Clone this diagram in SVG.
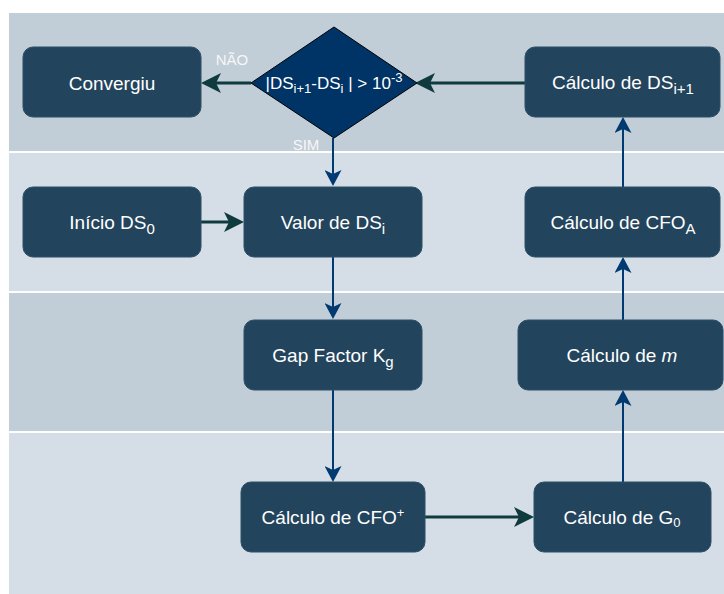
<svg xmlns="http://www.w3.org/2000/svg" width="724" height="594" viewBox="0 0 724 594">
<style>
.node{fill:#23445d;stroke:#2c4f68;stroke-width:1}
.t{font-family:"Liberation Sans",Arial,sans-serif;font-size:19px;fill:#ffffff;text-anchor:middle}
.lbl{font-family:"Liberation Sans",Arial,sans-serif;font-size:15px;fill:#f7f7f7;text-anchor:middle}
.teal{stroke:#0f3a3e;stroke-width:3;fill:none}
.blue{stroke:#003a70;stroke-width:2;fill:none}
</style>
<defs>
<marker id="aT" markerUnits="userSpaceOnUse" markerWidth="20" markerHeight="20" refX="12" refY="10" orient="auto" viewBox="0 0 20 20">
<path d="M0,0 L20,10 L0,20 L5,10 z" fill="#0f3a3e"/>
</marker>
<marker id="aB" markerUnits="userSpaceOnUse" markerWidth="17" markerHeight="17" refX="10" refY="8.5" orient="auto" viewBox="0 0 17 17">
<path d="M0,0 L16,8.5 L0,17 L4,8.5 z" fill="#003a70"/>
</marker>
</defs>
<rect width="724" height="594" fill="#ffffff"/>
<g id="bands">
<rect x="9" y="13" width="715" height="138" fill="#c1cdd7"/>
<rect x="9" y="153" width="715" height="138" fill="#d5dee6"/>
<rect x="9" y="293" width="715" height="138" fill="#c1cdd7"/>
<rect x="9" y="433" width="715" height="161" fill="#d5dee6"/>
</g>
<g id="connectors">
<line class="teal" x1="525" y1="83" x2="423" y2="83" marker-end="url(#aT)"/>
<line class="teal" x1="251" y1="83" x2="209" y2="83" marker-end="url(#aT)"/>
<line class="blue" x1="333" y1="138" x2="333" y2="180" marker-end="url(#aB)"/>
<line class="teal" x1="201" y1="222" x2="236" y2="222" marker-end="url(#aT)"/>
<line class="blue" x1="333" y1="257" x2="333" y2="313" marker-end="url(#aB)"/>
<line class="blue" x1="333" y1="390" x2="333" y2="476" marker-end="url(#aB)"/>
<line class="teal" x1="425" y1="517" x2="526" y2="517" marker-end="url(#aT)"/>
<line class="blue" x1="623" y1="482" x2="623" y2="396" marker-end="url(#aB)"/>
<line class="blue" x1="623" y1="320" x2="623" y2="263" marker-end="url(#aB)"/>
<line class="blue" x1="623" y1="187" x2="623" y2="123" marker-end="url(#aB)"/>
<text class="lbl" x="232" y="65">NÃO</text>
<text class="lbl" x="306" y="150">SIM</text>
</g>
<g id="convergiu">
<rect class="node" x="23" y="47" width="178" height="70" rx="10"/>
<text class="t" x="112" y="90">Convergiu</text>
</g>
<g id="decisao">
<polygon points="334,27 417,83 334,138 251,83" fill="#003366" stroke="#000000" stroke-width="1"/>
<text class="t" x="334" y="89" style="font-size:17px">|DS<tspan font-size="13" dy="4">i+1</tspan><tspan dy="-4">-DS</tspan><tspan font-size="13" dy="4">i</tspan><tspan dy="-4"> | &gt; 10</tspan><tspan font-size="13" dy="-7">-3</tspan></text>
</g>
<g id="calc-ds">
<rect class="node" x="525" y="47" width="195" height="70" rx="10"/>
<text class="t" x="623" y="89">Cálculo de DS<tspan font-size="15" dy="5">i+1</tspan></text>
</g>
<g id="inicio">
<rect class="node" x="23" y="187" width="178" height="70" rx="10"/>
<text class="t" x="112" y="229">Início DS<tspan font-size="15" dy="5">0</tspan></text>
</g>
<g id="valor">
<rect class="node" x="244" y="187" width="178" height="70" rx="10"/>
<text class="t" x="333" y="229">Valor de DS<tspan font-size="15" dy="5">i</tspan></text>
</g>
<g id="calc-cfoa">
<rect class="node" x="525" y="187" width="195" height="70" rx="10"/>
<text class="t" x="623" y="229">Cálculo de CFO<tspan font-size="15" dy="5">A</tspan></text>
</g>
<g id="gap">
<rect class="node" x="244" y="320" width="178" height="70" rx="10"/>
<text class="t" x="333" y="362">Gap Factor K<tspan font-size="15" dy="5">g</tspan></text>
</g>
<g id="calc-m">
<rect class="node" x="518" y="320" width="205" height="70" rx="10"/>
<text class="t" x="622" y="362">Cálculo de <tspan font-style="italic">m</tspan></text>
</g>
<g id="calc-cfo">
<rect class="node" x="241" y="482" width="184" height="70" rx="10"/>
<text class="t" x="333" y="524">Cálculo de CFO<tspan font-size="13" dy="-7">+</tspan></text>
</g>
<g id="calc-g0">
<rect class="node" x="534" y="482" width="177" height="70" rx="10"/>
<text class="t" x="622" y="524">Cálculo de G<tspan font-size="13" dy="3">0</tspan></text>
</g>
</svg>
